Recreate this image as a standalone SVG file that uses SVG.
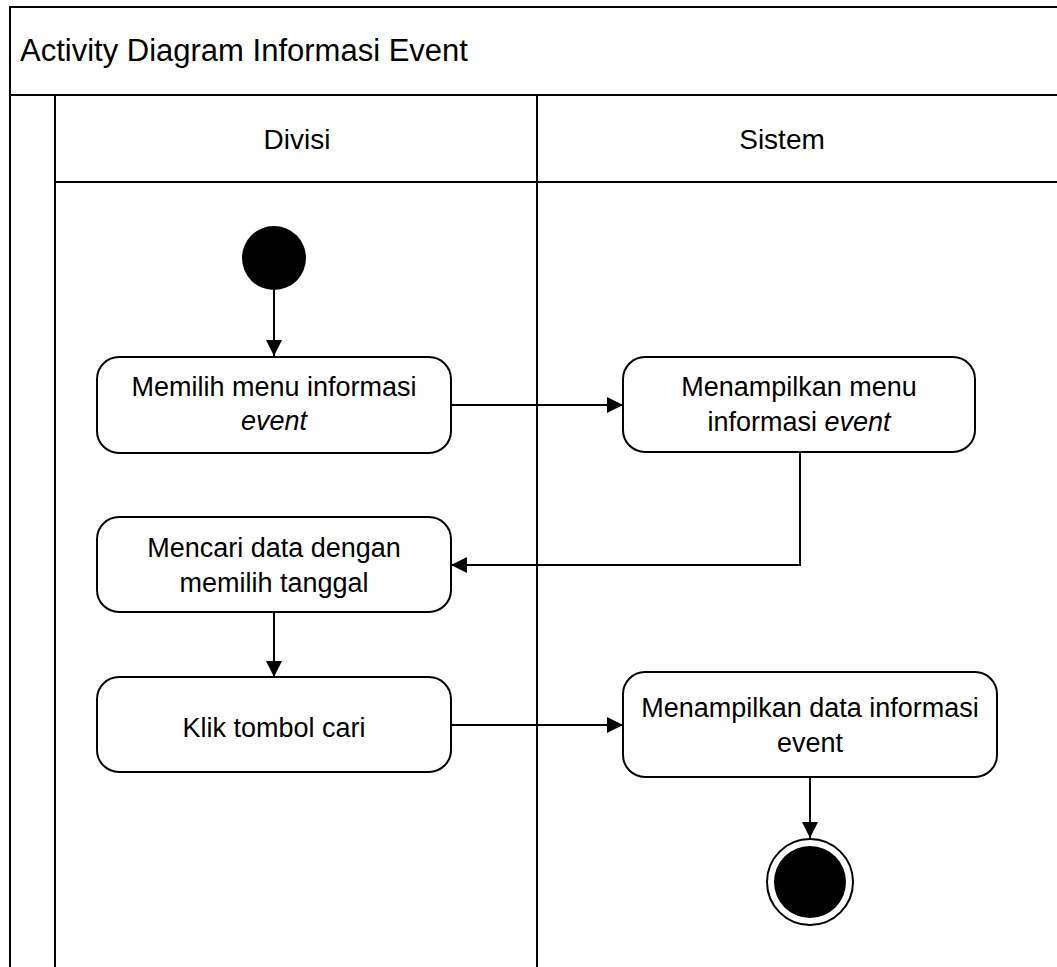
<svg xmlns="http://www.w3.org/2000/svg" width="1057" height="967" viewBox="0 0 1057 967">
  <style>
    .frame { fill: none; stroke: #000; stroke-width: 2; }
    .node { fill: #fff; stroke: #000; stroke-width: 2; }
    .edge { fill: none; stroke: #000; stroke-width: 2; }
    .txt { font-family: "Liberation Sans", Arial, sans-serif; fill: #000; text-anchor: middle; }
    .label { font-size: 27px; }
    .head { font-size: 28px; }
    .title { font-size: 31px; text-anchor: start; }
    .it { font-style: italic; }
  </style>
  <defs>
    <marker id="arrow" viewBox="0 0 16 16" refX="16" refY="8" markerWidth="16" markerHeight="16" markerUnits="userSpaceOnUse" orient="auto">
      <path d="M0,0 L16,8 L0,16 Z" fill="#000"/>
    </marker>
  </defs>

  <rect x="0" y="0" width="1057" height="967" fill="#fff"/>

  <!-- swimlane frame -->
  <g id="frame">
    <path class="frame" d="M10,967 V7 H1057"/>
    <path class="frame" d="M10,95 H1057"/>
    <path class="frame" d="M55,182 H1057"/>
    <path class="frame" d="M55,95 V967"/>
    <path class="frame" d="M537,95 V967"/>
    <text class="txt title" x="20" y="61">Activity Diagram Informasi Event</text>
  </g>

  <g id="lane-divisi">
    <text class="txt head" x="297" y="149">Divisi</text>
  </g>
  <g id="lane-sistem">
    <text class="txt head" x="782" y="149">Sistem</text>
  </g>

  <!-- connectors -->
  <g id="connectors">
    <path class="edge" d="M274,290 V356" marker-end="url(#arrow)"/>
    <path class="edge" d="M451,405 H623" marker-end="url(#arrow)"/>
    <path class="edge" d="M800,452 V565 H451" marker-end="url(#arrow)"/>
    <path class="edge" d="M274,612 V677" marker-end="url(#arrow)"/>
    <path class="edge" d="M451,725 H623" marker-end="url(#arrow)"/>
    <path class="edge" d="M810,777 V838" marker-end="url(#arrow)"/>
  </g>

  <g id="start">
    <circle cx="274" cy="258" r="32" fill="#000"/>
  </g>

  <g id="memilih-menu">
    <rect class="node" x="97" y="357" width="354" height="96" rx="22" ry="22"/>
    <text class="txt label" x="274" y="396">Memilih menu informasi</text>
    <text class="txt label it" x="274" y="430">event</text>
  </g>

  <g id="tampil-menu">
    <rect class="node" x="623" y="357" width="352" height="95" rx="22" ry="22"/>
    <text class="txt label" x="799" y="396">Menampilkan menu</text>
    <text class="txt label" x="799" y="431">informasi <tspan class="it">event</tspan></text>
  </g>

  <g id="cari-data">
    <rect class="node" x="97" y="517" width="354" height="95" rx="22" ry="22"/>
    <text class="txt label" x="274" y="557">Mencari data dengan</text>
    <text class="txt label" x="274" y="592">memilih tanggal</text>
  </g>

  <g id="klik-cari">
    <rect class="node" x="97" y="677" width="354" height="95" rx="22" ry="22"/>
    <text class="txt label" x="274" y="737">Klik tombol cari</text>
  </g>

  <g id="tampil-data">
    <rect class="node" x="623" y="672" width="374" height="105" rx="22" ry="22"/>
    <text class="txt label" x="810" y="717">Menampilkan data informasi</text>
    <text class="txt label" x="810" y="752">event</text>
  </g>

  <g id="end">
    <circle cx="810" cy="882" r="43" fill="#fff" stroke="#000" stroke-width="2"/>
    <circle cx="810" cy="882" r="36" fill="#000"/>
  </g>
</svg>
